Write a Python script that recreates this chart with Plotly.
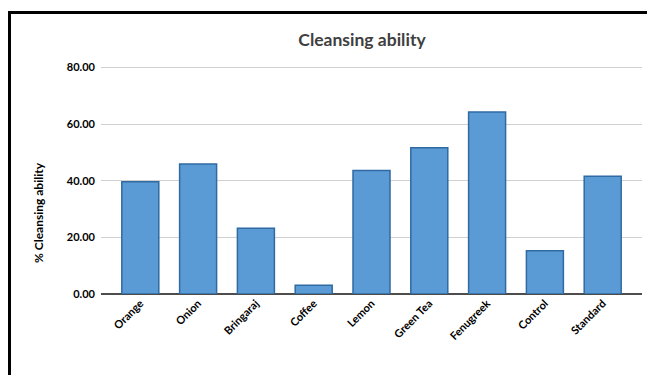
import plotly.graph_objects as go

categories = ["Orange", "Onion", "Bringaraj", "Coffee", "Lemon", "Green Tea", "Fenugreek", "Control", "Standard"]
values = [39.6, 45.9, 23.2, 3.1, 43.6, 51.6, 64.3, 15.3, 41.6]
y_ticks = [0, 20, 40, 60, 80]
y_tick_labels = ["0.00", "20.00", "40.00", "60.00", "80.00"]

FONT = "Lato"

fig = go.Figure(
    go.Bar(
        x=categories,
        y=values,
        width=0.64,
        marker=dict(color="#5b9bd5", line=dict(color="#2f6aa3", width=1.5)),
    )
)

W, H = 647, 375
ml, mr, mt, mb = 101, 5, 66, 81

fig.update_layout(
    width=W,
    height=H,
    margin=dict(l=ml, r=mr, t=mt, b=mb, pad=0),
    paper_bgcolor="white",
    plot_bgcolor="white",
    showlegend=False,
    title=dict(
        text="<b>Cleansing ability</b>",
        x=362 / W,
        xref="container",
        xanchor="center",
        y=1 - 40 / H,
        yref="container",
        yanchor="middle",
        font=dict(family=FONT, size=17.5, color="#404040"),
    ),
    font=dict(family=FONT, color="#000000"),
)

fig.update_xaxes(
    range=[-0.68, 8.68],
    tickangle=-45,
    tickfont=dict(family=FONT, size=11, color="#000000", weight="bold"),
    showline=False,
    showgrid=False,
    ticks="",
    zeroline=False,
)

fig.update_yaxes(
    range=[0, 80.5],
    tickvals=y_ticks,
    ticktext=y_tick_labels,
    tickfont=dict(family=FONT, size=11, color="#000000", weight="bold"),
    showgrid=True,
    gridcolor="#d0d0d0",
    gridwidth=1,
    zeroline=True,
    zerolinecolor="#4d4d4d",
    zerolinewidth=1.5,
    showline=False,
    ticks="",
    ticklabelstandoff=5,
)

pw = W - ml - mr
ph = H - mt - mb
fig.add_annotation(
    text="<b>% Cleansing ability</b>",
    textangle=-90,
    xref="paper",
    yref="paper",
    x=(38 - ml) / pw,
    y=(H - mb - 213) / ph,
    xanchor="center",
    yanchor="middle",
    showarrow=False,
    font=dict(family=FONT, size=12, color="#000000"),
)

def px_x(v):
    return (v - ml) / pw

def px_y(v):
    return (H - mb - v) / ph

# outer frame: left and top edges only
fig.add_shape(type="line", xref="paper", yref="paper",
              x0=px_x(9.5), x1=px_x(9.5), y0=px_y(12), y1=px_y(H),
              line=dict(color="#000000", width=3), layer="above")
fig.add_shape(type="line", xref="paper", yref="paper",
              x0=px_x(8), x1=px_x(W), y0=px_y(12.5), y1=px_y(12.5),
              line=dict(color="#000000", width=3), layer="above")

fig.write_html("out.html")
